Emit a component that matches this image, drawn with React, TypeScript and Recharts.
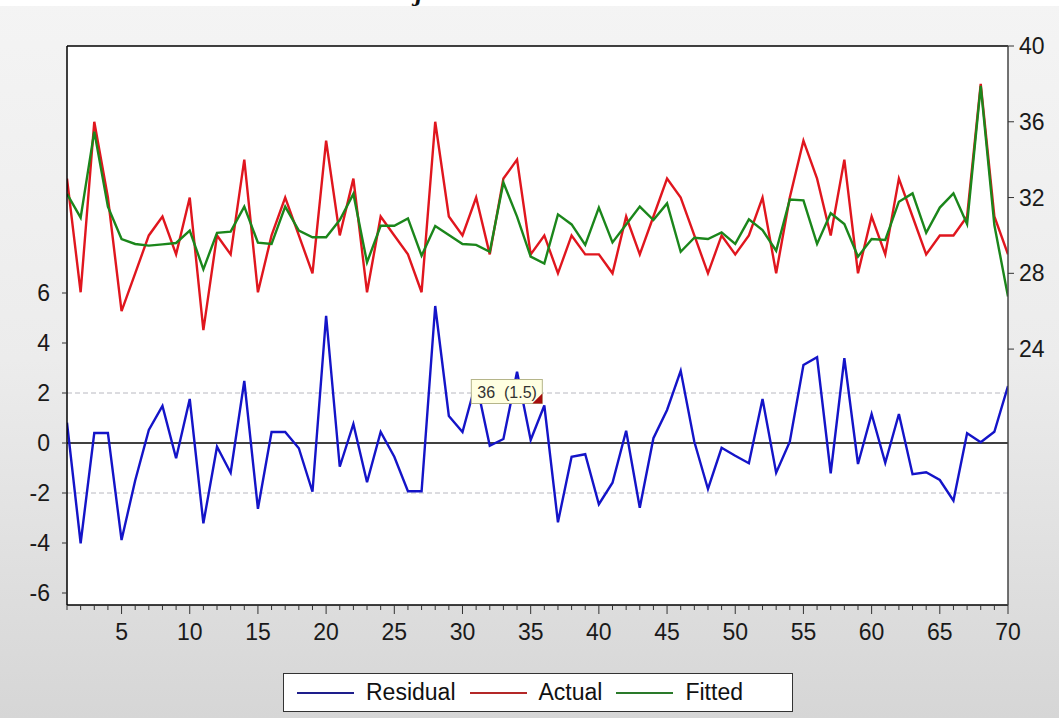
import React from 'react';
import {
  ComposedChart,
  Line,
  XAxis,
  YAxis,
  ReferenceLine,
  ReferenceDot,
  CartesianGrid,
  Legend,
} from 'recharts';

const periods: number[] = Array.from({ length: 70 }, (_, i) => i + 1);

const residual: number[] = [
  0.81, -4.01, 0.4, 0.4, -3.88, -1.5, 0.52, 1.48, -0.61, 1.76,
  -3.21, -0.15, -1.19, 2.48, -2.63, 0.44, 0.44, -0.21, -1.95, 5.09,
  -0.95, 0.76, -1.57, 0.44, -0.55, -1.93, -1.93, 5.48, 1.08, 0.44,
  2.45, -0.11, 0.16, 2.85, 0.12, 1.5, -3.17, -0.55, -0.45, -2.45,
  -1.59, 0.49, -2.59, 0.19, 1.32, 2.89, 0.05, -1.84, -0.19, -0.51,
  -0.81, 1.76, -1.19, 0.05, 3.12, 3.43, -1.21, 3.39, -0.84, 1.16,
  -0.79, 1.16, -1.25, -1.17, -1.48, -2.31, 0.39, 0.03, 0.45, 2.28,
];

const actual: number[] = [
  33, 27, 36, 32, 26, 28, 30, 31, 29, 32,
  25, 30, 29, 34, 27, 30, 32, 30, 28, 35,
  30, 33, 27, 31, 30, 29, 27, 36, 31, 30,
  32, 29, 33, 34, 29, 30, 28, 30, 29, 29,
  28, 31, 29, 31, 33, 32, 30, 28, 30, 29,
  30, 32, 28, 32, 35, 33, 30, 34, 28, 31,
  29, 33, 31, 29, 30, 30, 31, 38, 31, 29,
];

const fitted: number[] = [
  32.19, 30.94, 35.48, 31.52, 29.81, 29.55, 29.46, 29.53, 29.6, 30.25,
  28.21, 30.14, 30.2, 31.52, 29.62, 29.55, 31.52, 30.25, 29.9, 29.9,
  30.81, 32.19, 28.58, 30.51, 30.51, 30.9, 28.93, 30.5, 30.02, 29.55,
  29.5, 29.14, 32.79, 30.99, 28.88, 28.52, 31.11, 30.58, 29.5, 31.47,
  29.63, 30.58, 31.52, 30.81, 31.69, 29.14, 29.88, 29.81, 30.16, 29.55,
  30.85, 30.28, 29.19, 31.9, 31.85, 29.55, 31.17, 30.6, 28.88, 29.81,
  29.76, 31.78, 32.22, 30.14, 31.47, 32.22, 30.6, 37.89, 30.55, 26.77,
];

const leftTicks: number[] = [-6, -4, -2, 0, 2, 4, 6];
const rightTicks: number[] = [24, 28, 32, 36, 40];
const xMajorEvery = 5;

const leftDomain: [number, number] = [-6.48, 15.88];
const rightDomain: [number, number] = [10.49, 40];

const tipPeriod = 36;
const tipValue = 1.5;
const tipText = '36\u00a0\u00a0(1.5)';

const data = periods.map((p, i) => ({
  period: p,
  residual: residual[i],
  actual: actual[i],
  fitted: fitted[i],
}));

const FONT = '"Liberation Sans", Arial, Helvetica, sans-serif';
const BLUE = '#1414c8';
const RED = '#e0161e';
const GREEN = '#1b861b';

const XTick = (props: any) => {
  const { x, y, payload } = props;
  const v = payload.value as number;
  const major = v % xMajorEvery === 0;
  return (
    <g>
      <line x1={x} x2={x} y1={y} y2={y + (major ? 9 : 5)} stroke="#333" strokeWidth={1} />
      {major && (
        <text x={x} y={y + 35} textAnchor="middle" fontSize={23} fontFamily={FONT} fill="#1a1a1a">
          {v}
        </text>
      )}
    </g>
  );
};

const TipShape = (props: any) => {
  const { cx, cy } = props;
  return (
    <g>
      <rect x={cx - 73} y={cy - 26} width={71} height={24} fill="#ffffe1" stroke="#b5b58a" strokeWidth={1} />
      <text x={cx - 67} y={cy - 8} fontSize={16} fontFamily={FONT} fill="#333">
        {tipText}
      </text>
      <path d={`M ${cx - 12} ${cy - 2} L ${cx - 2} ${cy - 12} L ${cx - 2} ${cy - 2} Z`} fill="#a50d0d" />
    </g>
  );
};

const legendItems = [
  { name: 'Residual', color: '#1e1e8c' },
  { name: 'Actual', color: '#b42828' },
  { name: 'Fitted', color: '#2a7a2a' },
];

const LegendBox = () => (
  <div style={{ display: 'flex', justifyContent: 'flex-start' }}>
    <div
      style={{
        marginLeft: 283,
        width: 510,
        height: 39,
        boxSizing: 'border-box',
        border: '1px solid #333',
        background: '#fff',
        display: 'flex',
        alignItems: 'center',
        paddingLeft: 13,
        fontFamily: FONT,
        fontSize: 23,
        color: '#111',
      }}
    >
      {legendItems.map((it) => (
        <div key={it.name} style={{ display: 'flex', alignItems: 'center', marginRight: 14 }}>
          <div style={{ width: 57, height: 2, background: it.color, marginRight: 12 }} />
          <span>{it.name}</span>
        </div>
      ))}
    </div>
  </div>
);

export default function App() {
  return (
    <div
      style={{
        position: 'absolute',
        left: 0,
        top: 0,
        width: 1059,
        height: 718,
        overflow: 'hidden',
        background: 'linear-gradient(#f4f4f4 0%, #ececec 50%, #d6d6d6 100%)',
      }}
    >
      <div
        style={{
          position: 'absolute',
          left: 0,
          top: 0,
          width: 1059,
          height: 6,
          background: '#fff',
          overflow: 'hidden',
        }}
      >
        <span
          style={{
            position: 'absolute',
            left: 415,
            top: -17,
            fontFamily: '"DejaVu Serif", serif',
            fontWeight: 'bold',
            fontStyle: 'italic',
            fontSize: 20,
            color: '#111',
          }}
        >
          j
        </span>
      </div>
      <div style={{ position: 'absolute', left: 0, top: 0 }}>
        <ComposedChart
          width={1059}
          height={718}
          data={data}
          margin={{ top: 46, right: 0, bottom: 6, left: 0 }}
        >
          <CartesianGrid
            xAxisId="x"
            yAxisId="left"
            horizontal={false}
            vertical={false}
            fill="#ffffff"
            fillOpacity={1}
          />
          <XAxis
            xAxisId="x"
            dataKey="period"
            type="number"
            domain={[1, 70]}
            ticks={periods}
            interval={0}
            height={68}
            tickSize={0}
            tickMargin={0}
            tickLine={false}
            tick={<XTick />}
            axisLine={{ stroke: '#000', strokeWidth: 1.5 }}
            allowDataOverflow
          />
          <YAxis
            yAxisId="left"
            orientation="left"
            width={67}
            domain={leftDomain}
            ticks={leftTicks}
            interval={0}
            allowDataOverflow
            tickSize={5}
            tickMargin={12}
            tickLine={{ stroke: '#333' }}
            axisLine={{ stroke: '#000', strokeWidth: 1.5 }}
            tick={{ fontSize: 23, fontFamily: FONT, fill: '#1a1a1a' }}
          />
          <YAxis
            yAxisId="right"
            orientation="right"
            width={51}
            domain={rightDomain}
            ticks={rightTicks}
            interval={0}
            allowDataOverflow
            tickSize={6}
            tickMargin={5}
            tickLine={{ stroke: '#333' }}
            axisLine={{ stroke: '#444', strokeWidth: 1.5 }}
            tick={{ fontSize: 23, fontFamily: FONT, fill: '#1a1a1a', textAnchor: 'start' }}
          />
          <ReferenceLine xAxisId="x" yAxisId="left" y={leftDomain[1]} stroke="#000" strokeWidth={1.5} />
          <ReferenceLine xAxisId="x" yAxisId="left" y={2} stroke="#b8b8c0" strokeDasharray="5 3" />
          <ReferenceLine xAxisId="x" yAxisId="left" y={-2} stroke="#b8b8c0" strokeDasharray="5 3" />
          <ReferenceLine xAxisId="x" yAxisId="left" y={0} stroke="#000" strokeWidth={1.6} />
          <Line
            xAxisId="x"
            yAxisId="right"
            type="linear"
            dataKey="actual"
            name="Actual"
            stroke={RED}
            strokeWidth={2.4}
            dot={false}
            isAnimationActive={false}
          />
          <Line
            xAxisId="x"
            yAxisId="right"
            type="linear"
            dataKey="fitted"
            name="Fitted"
            stroke={GREEN}
            strokeWidth={2.4}
            dot={false}
            isAnimationActive={false}
          />
          <Line
            xAxisId="x"
            yAxisId="left"
            type="linear"
            dataKey="residual"
            name="Residual"
            stroke={BLUE}
            strokeWidth={2.4}
            dot={false}
            isAnimationActive={false}
          />
          <ReferenceDot
            xAxisId="x"
            yAxisId="left"
            x={tipPeriod}
            y={tipValue}
            r={0}
            shape={<TipShape />}
          />
          <Legend verticalAlign="bottom" height={39} content={<LegendBox />} />
        </ComposedChart>
      </div>
    </div>
  );
}
